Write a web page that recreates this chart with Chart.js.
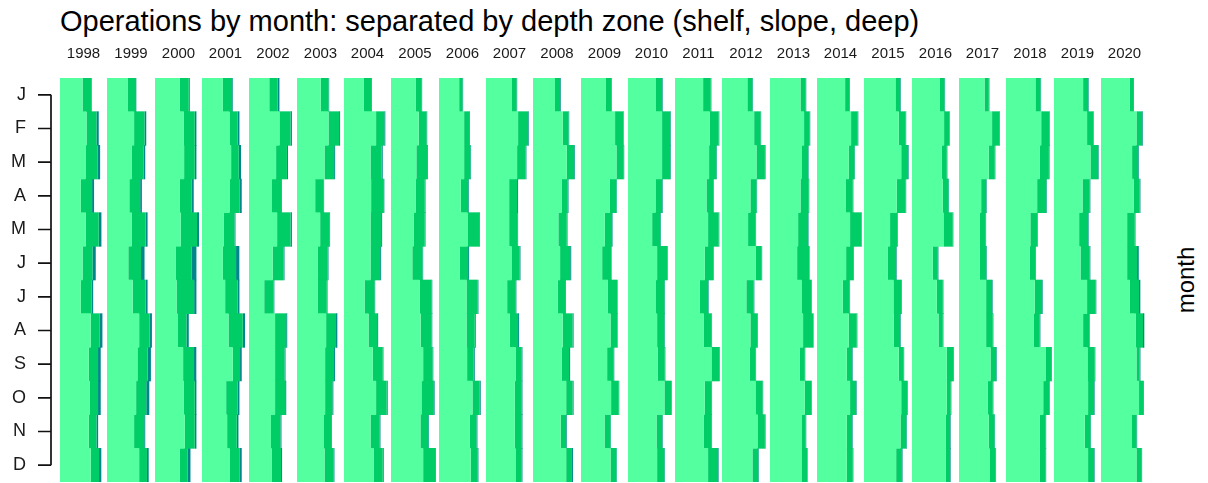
<!DOCTYPE html>
<html>
<head>
<meta charset="utf-8">
<script src="https://cdn.jsdelivr.net/npm/chart.js@4.4.1/dist/chart.umd.min.js"></script>
<style>
  html, body { margin: 0; padding: 0; background: #fff; }
  body { width: 1208px; height: 483px; position: relative; overflow: hidden;
         font-family: "Liberation Sans", Arial, sans-serif; }
  #title { position: absolute; left: 60px; top: 5px; font-size: 29px; color: #000; white-space: nowrap; }
  #ylab { position: absolute; left: 1186px; top: 280px; font-size: 24px; color: #000;
          transform: translate(-50%, -50%) rotate(-90deg); white-space: nowrap; }
  canvas.panel { position: absolute; top: 40px; }
</style>
</head>
<body>
<div id="title">Operations by month: separated by depth zone (shelf, slope, deep)</div>
<div id="ylab">month</div>
<script>
const FONT = '"Liberation Sans", Arial, sans-serif';

const years = [1998, 1999, 2000, 2001, 2002, 2003, 2004, 2005, 2006, 2007, 2008, 2009,
               2010, 2011, 2012, 2013, 2014, 2015, 2016, 2017, 2018, 2019, 2020];
const months = ['J', 'F', 'M', 'A', 'M', 'J', 'J', 'A', 'S', 'O', 'N', 'D'];

// operations per month, one row per year (J..D)
const shelf = [
  [22.7, 26.7, 25.7, 21, 26, 22.7, 21, 31, 29, 30, 29, 31],            // 1998
  [20.3, 26.7, 24.3, 22, 24.3, 21, 25.3, 31.7, 30, 28.7, 26.7, 31.7],  // 1999
  [25, 29, 29.3, 25, 26, 21, 21.7, 22.7, 28.3, 29, 30, 25],            // 2000
  [21, 27.7, 29.3, 27.7, 22, 21, 23.3, 26.7, 31, 24.3, 25.3, 27.7],    // 2001
  [20, 30, 26.7, 22.7, 27.7, 23.3, 15, 25.7, 25.7, 25.7, 21.7, 22.3],  // 2002
  [24, 31.7, 27.7, 18.3, 23.3, 20.7, 20.7, 29.3, 28.3, 28.3, 26.7, 27.7], // 2003
  [20, 32.3, 26.7, 27.3, 26.7, 26.7, 20.7, 24.7, 29, 32.3, 26.7, 30],  // 2004
  [24.3, 27.3, 25, 24.3, 22.3, 21, 28.3, 29.3, 31.7, 30, 29, 31.7],    // 2005
  [20.3, 25.3, 25.3, 22, 28.7, 21, 27.7, 27.7, 28.3, 33.7, 31, 32],    // 2006
  [25.7, 32.3, 31.3, 23.3, 23.3, 25.7, 21.3, 24, 30, 29, 29, 29.7],    // 2007
  [21.7, 29.3, 33.3, 28.3, 25, 26.7, 24.3, 29.3, 28.3, 32.7, 27.3, 32.7], // 2008
  [24.7, 34.3, 35.7, 29, 24, 21.3, 27, 29.7, 26.3, 30.3, 23.7, 29.7],  // 2009
  [27.7, 34.3, 34.3, 27.7, 24.3, 29.3, 27.7, 29.3, 30, 36.7, 28.7, 29.3], // 2010
  [28.3, 35, 34.3, 31.7, 33.3, 30, 25, 29, 36.7, 30, 29, 33.3],        // 2011
  [25, 31.7, 34, 28, 25.7, 33.3, 24, 28, 27.3, 33, 35, 30],            // 2012
  [30.7, 34.3, 31.7, 30.7, 28.3, 27.3, 31.7, 33.3, 30, 35, 31.7, 31.7], // 2013
  [28.3, 34.3, 32, 28.7, 33.3, 29.3, 26, 32, 30, 33.3, 30, 30],        // 2014
  [31, 34.3, 36.7, 32.3, 25.7, 23.3, 29, 29.3, 34.3, 36.7, 36, 31.7],  // 2015
  [27.7, 32.3, 30, 31, 31.7, 21, 25, 26.7, 35, 35, 34, 34],            // 2016
  [25.7, 33.3, 30, 22.3, 20.7, 20.7, 27.3, 27.3, 31.7, 29, 30, 30.7],  // 2017
  [29, 34.7, 33.3, 30.7, 24, 23.3, 28.3, 27.3, 39, 36.7, 33.3, 33.3],  // 2018
  [29.3, 33.3, 36.7, 28.7, 25.3, 26.7, 33.3, 29.3, 33.7, 34.3, 31, 34.3], // 2019
  [29, 35.7, 31.3, 33, 26.3, 26.3, 29, 35, 35.7, 38.3, 30.7, 35.7]     // 2020
];
const slope = [
  [9, 10, 12, 11.3, 13, 10, 10.7, 9, 9.3, 8.3, 7.7, 8.3],
  [8.3, 10.3, 11.7, 10.7, 13.7, 12.5, 12.7, 10.3, 10, 10, 10, 7.7],
  [9, 11, 10.7, 11.7, 16.3, 15.7, 17.7, 9, 11, 11, 10, 7.7],
  [9.3, 8.3, 7.7, 10, 10.7, 13.3, 12.7, 14.3, 7.3, 11.7, 9.7, 10],
  [8.3, 11, 10.7, 9, 13.3, 10.7, 9.3, 11, 9.3, 10, 9.3, 9.3],
  [7.7, 10.7, 9.7, 8.3, 9.3, 10, 9.3, 10, 9, 7.3, 7.7, 9],
  [7.3, 8.3, 11.3, 12.3, 10.7, 9.7, 10, 8.7, 10, 10.7, 9, 9],
  [5.7, 7.7, 10.7, 9, 11, 10, 11.7, 10.7, 9.3, 12.3, 7.7, 11.7],
  [3.3, 5, 6.3, 7.3, 11.7, 8.3, 11, 8.3, 6.7, 7.3, 6.7, 6.7],
  [5, 10, 8.7, 8, 8.3, 8.3, 8.3, 8.3, 5.7, 6.7, 6.7, 6],
  [5, 5.7, 7.3, 6, 8.3, 10, 7.3, 9.7, 7.3, 6.3, 5.3, 5.7],
  [6, 8.3, 7.3, 6.7, 7.3, 9, 9.3, 6.7, 6.7, 7.7, 6, 6],
  [6.7, 8.3, 8.3, 6.7, 8.3, 10, 9, 7.3, 7, 6.7, 5.7, 7.3],
  [7.7, 9, 7.3, 6.7, 10.7, 8.3, 8.3, 7.7, 7.7, 6.7, 7.7, 10],
  [5, 6.3, 8.3, 6, 7.3, 5.7, 7.3, 6.7, 5.7, 7, 7.3, 5.7],
  [5.3, 5.7, 6.7, 8.3, 10, 12, 10, 10, 5, 6.7, 4.3, 5.7],
  [4.3, 6.7, 5.7, 7.3, 11, 7.3, 6.7, 8, 5.3, 6, 5.3, 6],
  [4.7, 6.7, 6.7, 8.7, 7, 8.3, 7.7, 6.3, 4.7, 5.7, 5.7, 5.7],
  [5, 5, 5, 5.7, 9.3, 5, 6, 4.3, 6.7, 4, 4.3, 4.3],
  [4.3, 7.3, 6, 5, 6, 6.7, 6, 6.7, 5.7, 5, 5.7, 6],
  [5, 7.7, 9, 9, 6.7, 5.7, 7.3, 6, 5.7, 5.7, 5.7, 5.7],
  [5, 6, 7.7, 7.3, 9, 9.3, 8.7, 6, 7.3, 6, 5.7, 6],
  [3.3, 5.7, 6, 6, 7.7, 10, 9.3, 7.3, 3.3, 4, 5, 5]
];
const deep = [
  [0.5, 2.3, 2.7, 2, 2.7, 3.3, 1.7, 2.7, 2.7, 2.7, 1.7, 2.3],
  [0.3, 1.7, 1.7, 1.7, 2, 3.5, 2, 2.3, 3.3, 3, 1, 1.7],
  [1, 1.7, 1.7, 2.3, 2, 5, 2.3, 2.3, 2.3, 1.7, 1.7, 3],
  [0.7, 1.7, 2.3, 2.3, 1, 3.3, 1.7, 2.3, 1.7, 1.7, 1.7, 2.3],
  [1.7, 1.3, 1, 0.7, 1.3, 1, 0.7, 1, 1, 1, 1, 1],
  [0.7, 1, 1, 0.7, 0.7, 1, 0.7, 1.3, 1, 1, 0.7, 1],
  [0.7, 1, 1, 1, 1, 1, 0.7, 1, 0.7, 1, 1, 1],
  [0.7, 0.7, 0.7, 0.7, 0.7, 0.7, 0.7, 0.7, 0.7, 0.7, 0.7, 0.7],
  [0.7, 0.7, 0.7, 0.7, 0.7, 1, 1, 1, 1, 1, 1, 1],
  [0.7, 0.7, 0.7, 1, 0.7, 0.7, 1, 1, 1, 1, 1, 1],
  [0.7, 0.7, 0.7, 0.7, 0.7, 1, 0.7, 1, 1, 1, 0.7, 1],
  [0.5, 0.5, 0.5, 0.5, 0.5, 0.5, 0.5, 0.5, 0.5, 0.5, 0.5, 0.5],
  [0.6, 0.6, 0.6, 0.6, 0.6, 0.6, 0.6, 0.6, 0.6, 0.6, 0.6, 0.6],
  [0.6, 0.6, 0.6, 0.6, 0.6, 0.6, 0.6, 0.6, 0.6, 0.6, 0.6, 0.6],
  [0.6, 0.6, 0.6, 0.6, 0.6, 0.6, 0.6, 0.6, 0.6, 0.6, 0.6, 0.6],
  [0.5, 0.5, 0.5, 0.5, 0.5, 0.5, 0.5, 0.5, 0.5, 0.5, 0.5, 0.5],
  [0.6, 0.6, 0.6, 0.6, 0.6, 0.6, 0.6, 0.6, 0.6, 0.6, 0.6, 0.6],
  [0.6, 0.6, 0.6, 0.6, 0.6, 0.6, 0.6, 0.6, 0.6, 0.6, 0.6, 0.6],
  [0.6, 0.6, 0.6, 0.6, 0.6, 0.6, 0.6, 0.6, 0.6, 0.6, 0.6, 0.6],
  [0.6, 0.6, 0.6, 0.6, 0.6, 0.6, 0.6, 0.6, 0.6, 0.6, 0.6, 0.6],
  [0.6, 0.6, 0.6, 0.6, 0.6, 0.6, 0.6, 0.6, 0.6, 0.6, 0.6, 0.6],
  [0.6, 0.6, 0.6, 0.6, 0.6, 0.6, 0.6, 0.6, 0.6, 0.6, 0.6, 0.6],
  [0.7, 0.7, 0.7, 0.7, 0.7, 1.7, 1.3, 1.3, 0.7, 0.7, 0.7, 0.7]
];

const COLORS = { shelf: '#54FF9F', slope: '#00CD66', deep: '#00868B' };
const X_MAX = 47.32;        // value range of one facet
const PANEL_LEFT = 60;
const PANEL_STEP = 47.32;
const PANEL_TOP = 40;
const PANEL_H = 442;
const STRIP_H = 38;         // room above the bars for the year strip

function addCanvas(left, w) {
  const canvas = document.createElement('canvas');
  canvas.className = 'panel';
  canvas.style.left = left + 'px';
  canvas.style.top = PANEL_TOP + 'px';
  canvas.style.width = w + 'px';
  canvas.style.height = PANEL_H + 'px';
  canvas.width = w;
  canvas.height = PANEL_H;
  document.body.appendChild(canvas);
  return canvas;
}

// ggplot-like y axis: ticks plus a line that only runs between first and last tick
const monthAxis = {
  id: 'monthAxis',
  afterDraw(chart) {
    const s = chart.scales.y;
    const ctx = chart.ctx;
    const ax = s.right - 9;
    ctx.save();
    ctx.strokeStyle = '#111';
    ctx.lineWidth = 1.7;
    ctx.beginPath();
    s.ticks.forEach((t, k) => {
      const y = s.getPixelForTick(k);
      ctx.moveTo(ax - 13, y);
      ctx.lineTo(ax, y);
    });
    ctx.moveTo(ax, s.getPixelForTick(0));
    ctx.lineTo(ax, s.getPixelForTick(s.ticks.length - 1));
    ctx.stroke();
    ctx.restore();
  }
};

// month axis on its own, left of the first facet.
// negative tick padding keeps the scale from reserving space above/below the rows
new Chart(addCanvas(0, PANEL_LEFT), {
  type: 'bar',
  data: { labels: months, datasets: [] },
  options: {
    indexAxis: 'y',
    responsive: false,
    animation: false,
    layout: { padding: { top: STRIP_H } },
    plugins: { legend: { display: false }, tooltip: { enabled: false } },
    scales: {
      x: { display: false },
      y: {
        grid: { display: true, drawOnChartArea: false, drawTicks: true, tickLength: 45, color: 'rgba(0,0,0,0)' },
        border: { display: false },
        ticks: { color: '#1a1a1a', font: { family: FONT, size: 18 }, padding: -11, autoSkip: false },
        afterFit: s => { s.width = PANEL_LEFT; }
      }
    }
  },
  plugins: [monthAxis]
});

years.forEach((yr, i) => {
  const x0 = Math.round(PANEL_LEFT + i * PANEL_STEP);
  const x1 = Math.round(PANEL_LEFT + (i + 1) * PANEL_STEP);

  new Chart(addCanvas(x0, x1 - x0), {
    type: 'bar',
    data: {
      labels: months,
      datasets: [
        { label: 'shelf', data: shelf[i], backgroundColor: COLORS.shelf },
        { label: 'slope', data: slope[i], backgroundColor: COLORS.slope },
        { label: 'deep', data: deep[i], backgroundColor: COLORS.deep }
      ]
    },
    options: {
      indexAxis: 'y',
      responsive: false,
      animation: false,
      layout: { padding: 0 },
      datasets: { bar: { categoryPercentage: 1, barPercentage: 1.02, borderWidth: 0 } },
      plugins: {
        legend: { display: false },
        tooltip: { enabled: false },
        title: {
          display: true,
          text: String(yr),
          color: '#1a1a1a',
          font: { family: FONT, size: 15, weight: 'normal', lineHeight: 1.2 },
          padding: { top: 5, bottom: STRIP_H - 5 - 18 }
        }
      },
      scales: {
        x: { stacked: true, min: 0, max: X_MAX, display: false },
        y: { stacked: true, display: false }
      }
    }
  });
});
</script>
</body>
</html>
